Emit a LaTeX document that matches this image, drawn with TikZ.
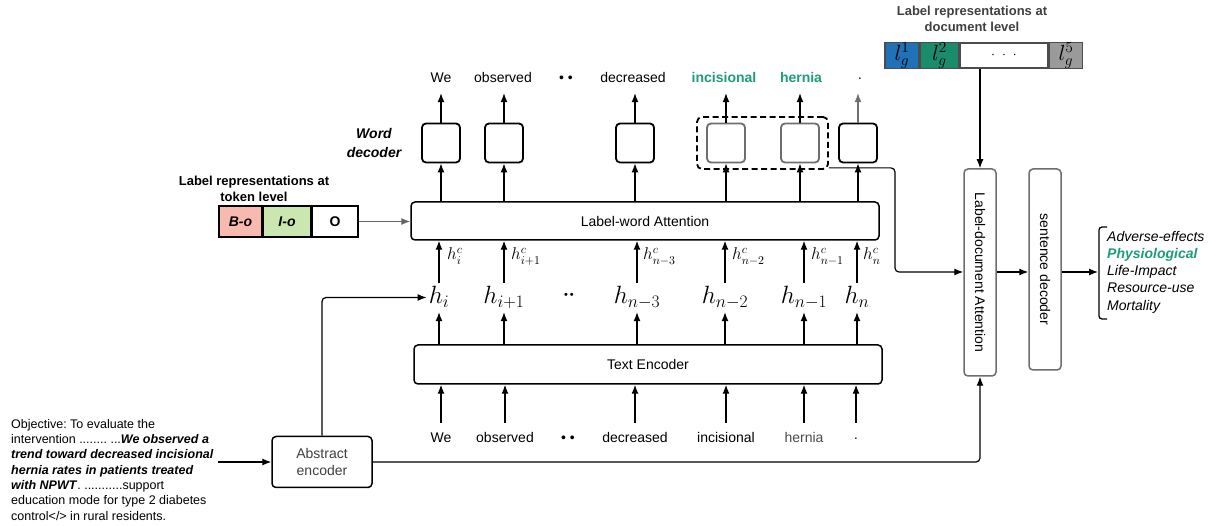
\RequirePackage{fix-cm}
\documentclass[tikz,border=0pt]{standalone}
\usepackage{fontspec}
\setmainfont{Liberation Sans}
\usepackage{graphicx}
\usetikzlibrary{arrows.meta,calc}
\definecolor{tealC}{HTML}{1E9C7C}
\definecolor{blueC}{HTML}{1F71B8}
\definecolor{greenC}{HTML}{1A8C6C}
\definecolor{grayC}{HTML}{9A9A9A}
\definecolor{salmonC}{HTML}{F8B9AE}
\definecolor{lgreenC}{HTML}{C9E7AE}
\definecolor{boxgray}{HTML}{6E6E6E}
\frenchspacing
\begin{document}
\begin{tikzpicture}[x=1pt,y=-1pt,
  arr/.style={-{Latex[length=9pt,width=7pt]}, line width=1.2pt},
  dec/.style={draw, line width=1.8pt, rounded corners=4pt, minimum width=38pt, minimum height=39pt, inner sep=0pt},
  decg/.style={dec, draw=boxgray},
  bigbox/.style={draw, line width=1.5pt, rounded corners=4pt, inner sep=0pt, font=\fontsize{14}{16}\selectfont},
  vbox/.style={draw=boxgray, line width=1.5pt, rounded corners=4pt, inner sep=0pt, minimum width=32pt, font=\fontsize{14}{16}\selectfont},
  tw/.style={anchor=base, inner sep=0pt, text height=11pt, text depth=10pt, font=\fontsize{14}{16}\selectfont},
  bw/.style={anchor=base, inner sep=0pt, text height=20pt, text depth=3pt, font=\fontsize{14}{16}\selectfont},
  hn/.style={anchor=base, inner ysep=0pt, inner xsep=2pt, text height=21pt, text depth=8pt, font=\fontsize{25}{27}\selectfont},
  hc/.style={anchor=base west, inner sep=0pt, font=\fontsize{17}{19}\selectfont},
  cell/.style={draw, line width=1.5pt, inner sep=0pt, minimum height=31pt, font=\fontsize{14}{16}\selectfont\bfseries},
  gcell/.style={draw=gray!60!black, line width=1.5pt, inner sep=0pt, minimum height=25pt, font=\fontsize{22}{24}\selectfont},
  ttl/.style={align=center, inner sep=0pt, font=\fontsize{13}{16}\selectfont\bfseries},
  lst/.style={anchor=base west, inner sep=0pt, font=\fontsize{14}{16}\selectfont\itshape},
]
\useasboundingbox[fill=white] (0,0) rectangle (1219,526);

% ---------- word decoder boxes ----------
\node[dec]  (d1) at (441,143) {};
\node[dec]  (d2) at (504,143) {};
\node[dec]  (d3) at (635,143) {};
\node[decg] (d4) at (726,143) {};
\node[decg] (d5) at (800,143) {};
\node[dec]  (d6) at (858,143) {};
\node[draw, line width=1.8pt, dash pattern=on 6pt off 3.5pt, rounded corners=5pt,
      minimum width=131pt, minimum height=52pt, inner sep=0pt] (dash) at (762.5,143) {};

\node[align=center, inner sep=0pt, font=\fontsize{14}{19}\selectfont\bfseries\itshape] (wdl) at (374,143) {Word\\decoder};

% ---------- top words ----------
\node[tw] (w1) at (441,83) {We};
\node[tw] (w2) at (503,83) {observed};
\node[tw] (w3) at (566,83) {\textbullet\ \textbullet};
\node[tw] (w4) at (633,83) {decreased};
\node[tw, text=tealC, font=\fontsize{14}{16}\selectfont\bfseries] (w5) at (724,83) {incisional};
\node[tw, text=tealC, font=\fontsize{14}{16}\selectfont\bfseries] (w6) at (801,83) {hernia};
\node[tw] (w7) at (860,83) {\textperiodcentered};

\draw[arr] (d1.north) -- (d1.north |- w1.south);
\draw[arr] (d2.north) -- (d2.north |- w2.south);
\draw[arr] (d3.north) -- (d3.north |- w4.south);
\draw[arr] (d4.north) -- (d4.north |- w5.south);
\draw[arr] (d5.north) -- (d5.north |- w6.south);
\draw[arr, draw=boxgray, -{Latex[length=9pt,width=7pt,fill=boxgray]}] (d6.north) -- (d6.north |- w7.south);

% ---------- label-word attention ----------
\node[bigbox, minimum width=468pt, minimum height=38pt] (lwa) at (645,221) {Label-word Attention};
\foreach \d in {d1,d2,d3,d4,d5,d6}{
  \draw[arr] (\d.south |- lwa.north) -- (\d.south);
}

% ---------- h row ----------
\node[hn] (h1) at (439,304) {$h_i$};
\node[hn] (h2) at (504,304) {$h_{i+1}$};
\node[anchor=base, inner sep=0pt, font=\fontsize{11}{12}\selectfont] (hdots) at (569,299) {\textbullet\,\textbullet};
\node[hn] (h3) at (637,304) {$h_{n-3}$};
\node[hn] (h4) at (725,304) {$h_{n-2}$};
\node[hn] (h5) at (804,304) {$h_{n-1}$};
\node[hn] (h6) at (857,304) {$h_n$};

\foreach \h in {h1,h2,h3,h4,h5,h6}{
  \draw[arr] (\h.north) -- (\h.north |- lwa.south);
}
\node[hc] (c1) at (447,260) {$h^c_i$};
\node[hc] (c2) at (511,260) {$h^c_{i+1}$};
\node[hc] (c3) at (643,260) {$h^c_{n-3}$};
\node[hc] (c4) at (732,260) {$h^c_{n-2}$};
\node[hc] (c5) at (811,260) {$h^c_{n-1}$};
\node[hc] (c6) at (863,260) {$h^c_n$};

% ---------- text encoder ----------
\node[bigbox, minimum width=468pt, minimum height=39pt] (te) at (648,364.5) {Text Encoder};
\foreach \h in {h1,h2,h3,h4,h5,h6}{
  \draw[arr] (\h.south |- te.north) -- (\h.south);
}

% ---------- bottom words ----------
\node[bw] (b1) at (441,443) {We};
\node[bw] (b2) at (505,443) {observed};
\node[bw] (b3) at (568,443) {\textbullet\ \textbullet};
\node[bw] (b4) at (635,443) {decreased};
\node[bw] (b5) at (726,443) {incisional};
\node[bw, text=black!70] (b6) at (804,443) {hernia};
\node[bw] (b7) at (856,443) {\textperiodcentered};
\foreach \b in {b1,b2,b4,b5,b6,b7}{
  \draw[arr] (\b.north) -- (\b.north |- te.south);
}

% ---------- token-level labels ----------
\node[ttl] (tt) at (254,189) {Label representations at\\token level};
\node[cell, fill=salmonC, minimum width=43pt] (bo) at (240.5,221.5) {\itshape B-o};
\node[cell, fill=lgreenC, minimum width=47pt, anchor=west] (io) at (bo.east) {\itshape I-o};
\node[cell, fill=white, minimum width=46pt, anchor=west] (oo) at (io.east) {O};
\draw[arr, draw=gray!80!black, -{Latex[length=9pt,width=7pt,fill=gray!80!black]}] (oo.east) -- (oo.east -| lwa.west);

% ---------- document-level labels ----------
\node[ttl, text=black!75] (dt) at (972,19) {Label representations at\\document level};
\node[gcell, fill=blueC, minimum width=34pt] (g1) at (902,55.5) {$l^1_g$};
\node[gcell, fill=greenC, minimum width=38pt, anchor=west] (g2) at (g1.east) {$l^2_g$};
\node[gcell, fill=white, minimum width=88pt, anchor=west, font=\fontsize{14}{16}\selectfont] (g3) at (g2.east) {$\cdot\;\cdot\;\cdot$};
\node[gcell, fill=grayC, minimum width=33pt, anchor=west] (g4) at (g3.east) {$l^5_g$};

% ---------- label-document attention & sentence decoder ----------
\node[vbox, minimum height=207pt] (lda) at (980,272.5) {\rotatebox{-90}{Label-document Attention}};
\node[vbox, minimum height=201pt] (sd) at (1045,269.5) {\rotatebox{-90}{sentence decoder}};
\draw[arr] (lda.north |- g3.south) -- (lda.north);
\draw[arr] (lda.east |- 0,272) -- (sd.west |- 0,272);
\coordinate (brk) at (1098,272);
\draw[arr] (sd.east |- brk) -- (brk);
\draw[line width=1.3pt, rounded corners=3pt] (1107,227) -- (1099,227) -- (1099,319) -- (1107,319);

\node[lst] (l1) at (1107,242) {Adverse-effects};
\node[lst, text=tealC, font=\fontsize{14}{16}\selectfont\bfseries\itshape] (l2) at (1107,259) {Physiological};
\node[lst] (l3) at (1107,276) {Life-Impact};
\node[lst] (l4) at (1107,293) {Resource-use};
\node[lst] (l5) at (1107,311) {Mortality};

% connector from word decoder to label-document attention
\coordinate (jog) at (895,272);
\draw[arr, rounded corners=4pt] ([yshift=2pt]dash.south east) -| (jog) -- (lda.west |- jog);

% ---------- abstract encoder ----------
\node[draw, line width=1.5pt, rounded corners=4pt, minimum width=100pt, minimum height=51pt,
      align=center, inner sep=0pt, text=black!75, font=\fontsize{14}{17}\selectfont] (ae) at (322,462) {Abstract\\encoder};
\draw[arr, rounded corners=4pt] (ae.north) |- (h1.west);
\draw[arr, rounded corners=4pt] (ae.east) -| (lda.south);

\node[anchor=north west, align=left, inner sep=0pt, font=\fontsize{12.5}{15.3}\selectfont] (src) at (11,419)
 {Objective: To evaluate the\\
  intervention ........ ...\textbf{\textit{We observed a}}\\
  \textbf{\textit{trend toward decreased incisional}}\\
  \textbf{\textit{hernia rates in patients treated}}\\
  \textbf{\textit{with NPWT}}. ...........support\\
  education mode for type 2 diabetes\\
  control</> in rural residents.};
\draw[arr] (src.east |- ae.west) ++(4,0) -- (ae.west);
\end{tikzpicture}
\end{document}
